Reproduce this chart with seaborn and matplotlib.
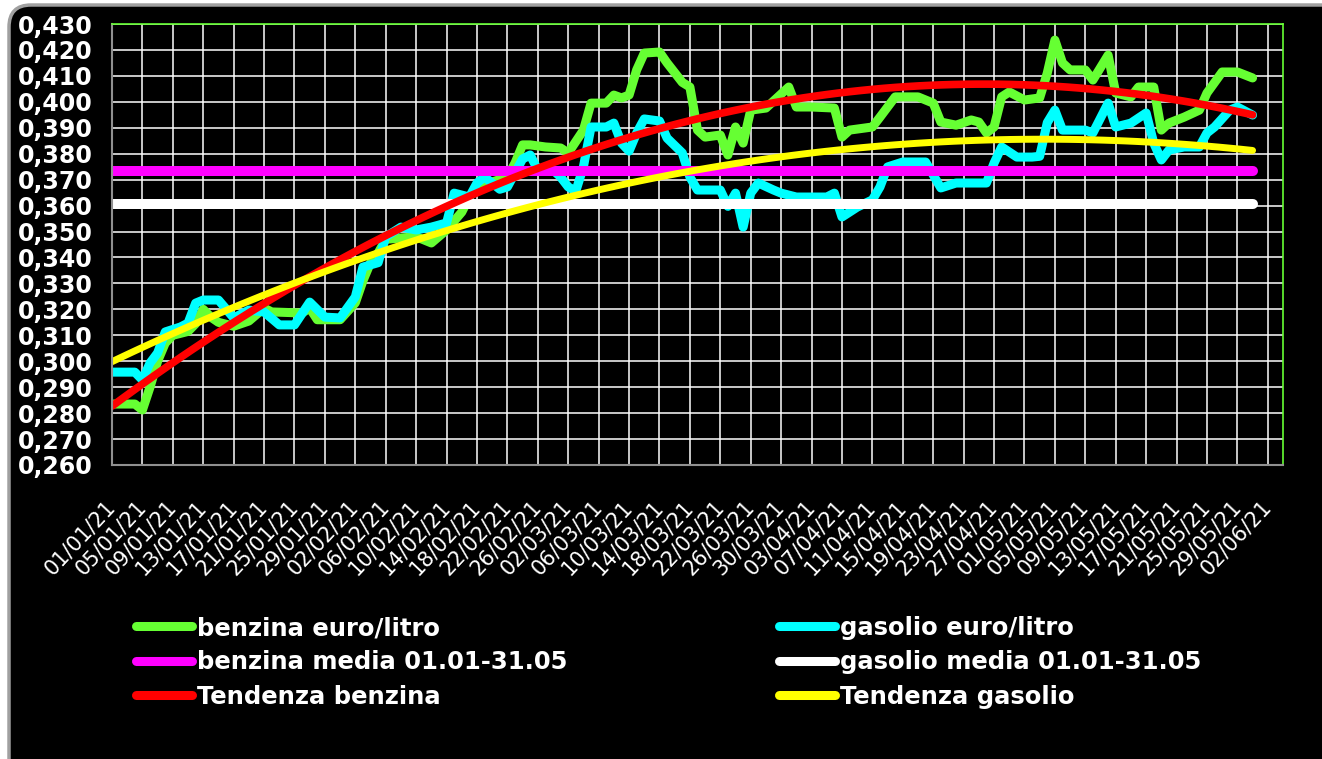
import numpy as np
import pandas as pd
import seaborn as sns
import matplotlib.pyplot as plt
from matplotlib.patches import FancyBboxPatch

# ================================
# Dati letti dal grafico
# giorni contati dal 01/01/21, prezzi in euro/litro
# ================================
giorni_benzina = [0, 3, 4, 5, 6, 7, 8, 10, 11, 12, 13, 14, 16, 18, 19, 20, 21, 25, 26, 27,
                  30, 32, 33, 34, 35, 36, 40, 42, 44, 46, 47, 48, 50, 52, 53, 54, 55, 57, 59, 60,
                  62, 63, 65, 66, 67, 68, 69, 70, 72, 73, 75, 76, 77, 78, 80, 81, 82, 83, 84, 86,
                  89, 90, 92, 95, 96, 97, 100, 101, 103, 106, 108, 109, 111, 113, 114, 115, 116, 117, 118, 120,
                  122, 123, 124, 125, 126, 128, 129, 131, 132, 134, 135, 137, 138, 139, 141, 143, 144, 146, 148, 150]
benzina = [0.2835, 0.2835, 0.2812, 0.290, 0.300, 0.307, 0.310, 0.3115, 0.3145, 0.320, 0.317, 0.315, 0.3135, 0.3155, 0.318, 0.3205, 0.319, 0.3186, 0.3205, 0.316,
           0.316, 0.3225, 0.331, 0.338, 0.3417, 0.347, 0.348, 0.3456, 0.3506, 0.3575, 0.3633, 0.3672, 0.3691, 0.371, 0.3764, 0.3834, 0.3834, 0.3826, 0.3822, 0.3803,
           0.3891, 0.3995, 0.3995, 0.4026, 0.4015, 0.4026, 0.4123, 0.4188, 0.4192, 0.415, 0.4075, 0.4057, 0.3891, 0.3864, 0.3872, 0.3795, 0.3903, 0.3841, 0.3968, 0.3976,
           0.4057, 0.398, 0.398, 0.3976, 0.3864, 0.3891, 0.3903, 0.3941, 0.4019, 0.4019, 0.3995, 0.3922, 0.391, 0.393, 0.3922, 0.388, 0.3903, 0.4019, 0.4038, 0.4007,
           0.4015, 0.4111, 0.4238, 0.415, 0.4123, 0.4123, 0.4084, 0.418, 0.4034, 0.4019, 0.4057, 0.4057, 0.3891, 0.3918, 0.3941, 0.3968, 0.4034, 0.4115, 0.4115, 0.4092]

giorni_gasolio = [0, 3, 4, 5, 6, 7, 9, 10, 11, 12, 14, 16, 18, 20, 22, 24, 26, 28, 30, 32,
                  33, 35, 36, 38, 40, 42, 44, 45, 47, 48, 49, 51, 52, 54, 55, 56, 58, 59, 60, 61,
                  62, 63, 65, 66, 67, 68, 69, 70, 72, 73, 75, 76, 77, 80, 81, 82, 83, 84, 85, 87,
                  88, 90, 94, 95, 96, 98, 100, 101, 102, 104, 107, 109, 111, 115, 116, 117, 119, 121, 122, 123,
                  124, 125, 128, 129, 131, 132, 134, 136, 137, 138, 139, 141, 143, 144, 145, 147, 148, 150]
gasolio = [0.2958, 0.2958, 0.2928, 0.2993, 0.3032, 0.3113, 0.3132, 0.3147, 0.3224, 0.3236, 0.3236, 0.3167, 0.3197, 0.319, 0.314, 0.314, 0.3228, 0.317, 0.3167, 0.3248,
           0.3363, 0.338, 0.348, 0.3517, 0.3506, 0.3517, 0.3533, 0.3648, 0.3633, 0.3687, 0.371, 0.3663, 0.3672, 0.378, 0.3795, 0.3737, 0.3737, 0.371, 0.3672, 0.3656,
           0.375, 0.3903, 0.3903, 0.3918, 0.3841, 0.381, 0.388, 0.3934, 0.3926, 0.386, 0.3803, 0.371, 0.366, 0.366, 0.3597, 0.3648, 0.3517, 0.3648, 0.3687, 0.366,
           0.3648, 0.3633, 0.3633, 0.3648, 0.3556, 0.3594, 0.3622, 0.3672, 0.3749, 0.3768, 0.3768, 0.3668, 0.3687, 0.3687, 0.3764, 0.3826, 0.3787, 0.3787, 0.379, 0.392,
           0.3968, 0.3891, 0.3891, 0.388, 0.3995, 0.3903, 0.3918, 0.3957, 0.3841, 0.3776, 0.3814, 0.3826, 0.3826, 0.388, 0.3903, 0.3968, 0.398, 0.3949]

# medie del periodo 01.01-31.05
giorni_media = [0, 150]
media_benzina = 0.3735
media_gasolio = 0.3606

# etichette asse x ogni 4 giorni
giorni_tick = list(range(0, 153, 4))
etichette_x = pd.date_range("2021-01-01", "2021-06-02", freq="4D").strftime("%d/%m/%y").tolist()
valori_y = [round(0.26 + 0.01 * i, 2) for i in range(18)]
etichette_y = [f"{v:.3f}".replace(".", ",") for v in valori_y]

nomi = ["benzina euro/litro", "benzina media 01.01-31.05", "Tendenza benzina",
        "gasolio euro/litro", "gasolio media 01.01-31.05", "Tendenza gasolio"]

verde = "#66FF33"
ciano = "#00FFFF"
magenta = "#FF00FF"
rosso = "#FF0000"
giallo = "#FFFF00"

# ================================
# Figura
# ================================
sns.set_style("dark")
plt.rcParams["font.family"] = ["DejaVu Sans"]

fig = plt.figure(figsize=(13.22, 7.59), dpi=100)
fig.patch.set_facecolor("white")

# cornice nera arrotondata
cornice = FancyBboxPatch((0.09, -0.3), 13.5, 7.84, boxstyle="round,pad=0,rounding_size=0.22",
                         transform=fig.dpi_scale_trans, facecolor="black",
                         edgecolor="#A0A0A0", linewidth=2.5, zorder=-10)
fig.patches.append(cornice)

ax = fig.add_axes([112 / 1322, 1 - 465 / 759, 1171 / 1322, 441 / 759])
ax.set_facecolor("black")

tondo = dict(solid_capstyle="round", solid_joinstyle="round")

sns.lineplot(x=giorni_benzina, y=benzina, color=verde, lw=6.5, ax=ax, **tondo)
l_benz = ax.lines[-1]
sns.lineplot(x=giorni_gasolio, y=gasolio, color=ciano, lw=6.5, ax=ax, **tondo)
l_gas = ax.lines[-1]
sns.lineplot(x=giorni_media, y=[media_benzina] * 2, color=magenta, lw=7.2, ax=ax, **tondo)
l_mb = ax.lines[-1]
sns.lineplot(x=giorni_media, y=[media_gasolio] * 2, color="white", lw=7.2, ax=ax, **tondo)
l_mg = ax.lines[-1]

# tendenze polinomiali (ordine 2)
sns.regplot(x=np.array(giorni_benzina), y=np.array(benzina), order=2, ci=None, scatter=False,
            line_kws=dict(color=rosso, lw=5.5, **tondo), ax=ax)
l_tb = ax.lines[-1]
sns.regplot(x=np.array(giorni_gasolio), y=np.array(gasolio), order=2, ci=None, scatter=False,
            line_kws=dict(color=giallo, lw=5, **tondo), ax=ax)
l_tg = ax.lines[-1]

# assi
ax.set_xlim(0, 154)
ax.set_ylim(0.26, 0.43)
ax.set_xlabel("")
ax.set_ylabel("")
ax.set_xticks(giorni_tick, labels=etichette_x, rotation=47, ha="right", va="center",
              rotation_mode="anchor", fontsize=15, color="white")
ax.set_yticks(valori_y, labels=etichette_y, fontsize=17, fontweight="bold", color="white")
ax.tick_params(axis="x", length=6, width=1.5, color="#909090", pad=22)
ax.tick_params(axis="y", length=6, width=1.5, color="#909090", pad=8)
ax.grid(True, color="white", lw=1.1)
ax.set_axisbelow(True)

for lato in ["left", "bottom"]:
    ax.spines[lato].set_color("#909090")
    ax.spines[lato].set_linewidth(1.5)
for lato in ["top", "right"]:
    ax.spines[lato].set_color(verde)
    ax.spines[lato].set_linewidth(1.2)

# legenda
maniglie = [l_benz, l_mb, l_tb, l_gas, l_mg, l_tg]
leg = fig.legend(maniglie, nomi, loc="upper left", bbox_to_anchor=(0.103, 0.1884), ncol=2,
                 frameon=False, prop=dict(weight="bold", size=17.5), labelcolor="white",
                 handlelength=2.3, handletextpad=0.2, labelspacing=0.43,
                 columnspacing=8.7, borderpad=0, borderaxespad=0)
for h in leg.legend_handles:
    h.set_linewidth(6.5)
    h.set_solid_capstyle("round")

fig.savefig("out.png", dpi=100, facecolor="white")
